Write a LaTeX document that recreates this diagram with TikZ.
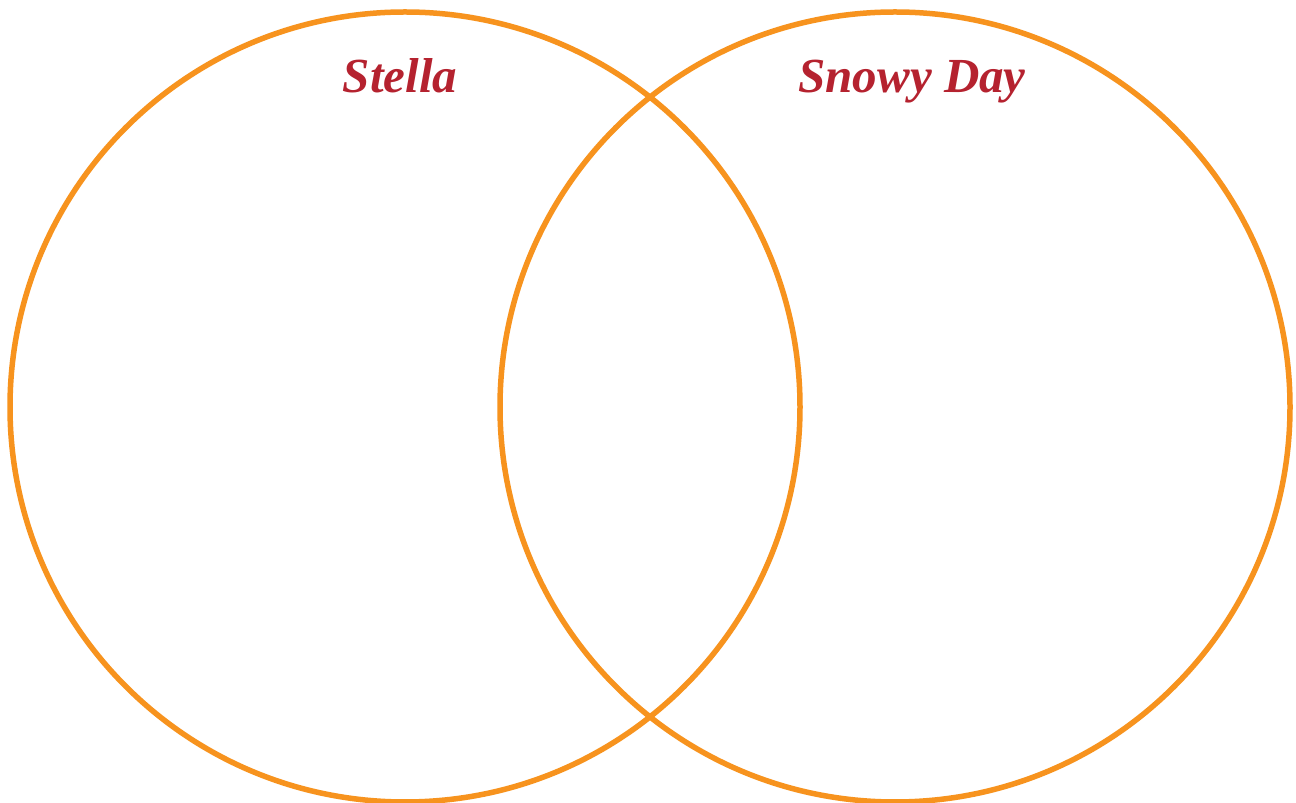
\documentclass[tikz,border=0pt]{standalone}
\usepackage{fontspec}
\setmainfont{Liberation Serif}
\definecolor{ring}{HTML}{F7931E}
\definecolor{title}{HTML}{B5222F}
\begin{document}
\begin{tikzpicture}[x=1pt,y=1pt,
  ringline/.style={draw=ring,line width=5.5pt},
  titletext/.style={text=title,font=\fontsize{49}{54}\selectfont\bfseries\itshape,inner sep=0pt,anchor=base}]
\useasboundingbox (0,0) rectangle (1296,803);
\clip (0,0) rectangle (1296,803);
\fill[white] (0,0) rectangle (1296,803);
\draw[ringline] (405,396) circle[radius=395];
\draw[ringline] (895,396) circle[radius=395];
\node[titletext] (stella) at (400,710) {Stella};
\node[titletext] (snowy) at (912,710) {Snowy Day};
\end{tikzpicture}
\end{document}
